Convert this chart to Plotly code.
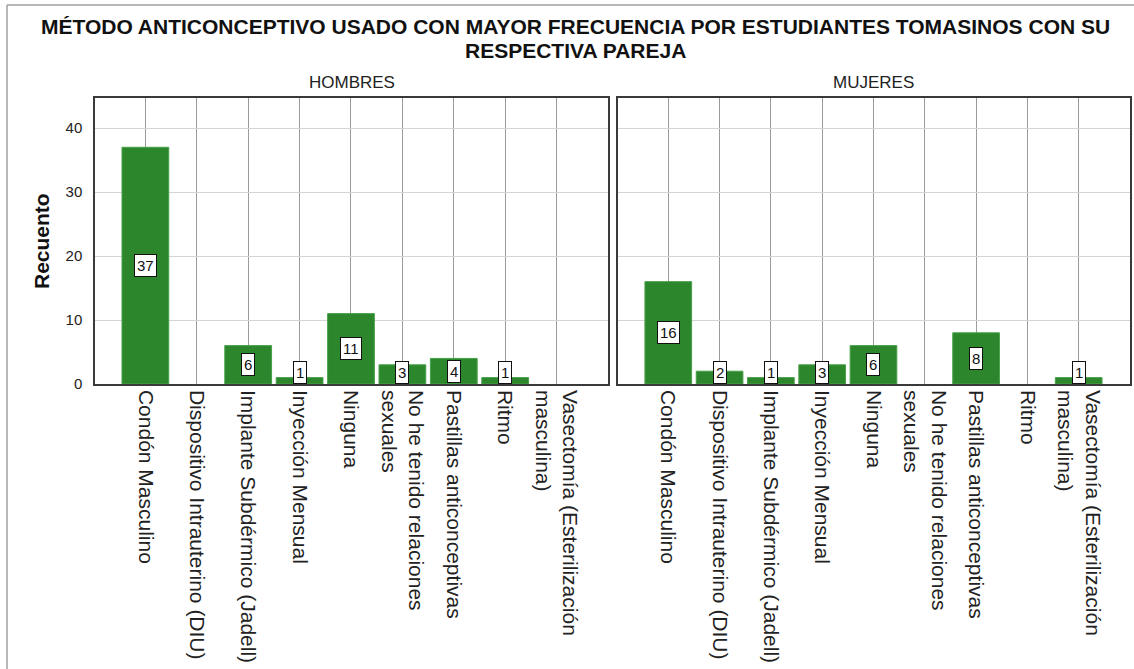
import plotly.graph_objects as go
from plotly.subplots import make_subplots

categories = [
    "Condón Masculino",
    "Dispositivo Intrauterino (DIU)",
    "Implante Subdérmico (Jadell)",
    "Inyección Mensual",
    "Ninguna",
    "No he tenido relaciones<br>sexuales",
    "Pastillas anticonceptivas",
    "Ritmo",
    "Vasectomía (Esterilización<br>masculina)",
]
hombres = [37, 0, 6, 1, 11, 3, 4, 1, 0]
mujeres = [16, 2, 1, 3, 6, 0, 8, 0, 1]
panel_titles = ["HOMBRES", "MUJERES"]
y_ticks = [0, 10, 20, 30, 40]

TITLE_LINES = [
    "MÉTODO ANTICONCEPTIVO USADO CON MAYOR FRECUENCIA POR ESTUDIANTES TOMASINOS CON SU",
    "RESPECTIVA PAREJA",
]

W, H = 1134, 669
ML, MR, MT, MB = 95, 4, 98, 285
PW = W - ML - MR
PH = H - MT - MB
FONT = "Liberation Sans, Arial, sans-serif"
BAR = "#2c872c"

fig = make_subplots(rows=1, cols=2, shared_yaxes=False)

for i, vals in enumerate([hombres, mujeres]):
    fig.add_trace(go.Bar(
        x=categories, y=vals,
        marker=dict(color=BAR, line=dict(color="#49a049", width=[1 if v > 0 else 0 for v in vals])),
        width=0.91, showlegend=False, hoverinfo="x+y"), row=1, col=i + 1)

dom1 = [0, 513 / PW]
dom2 = [523 / PW, 1]
YMAX = 44.7
LABEL_MIN = 1.8

axis_common = dict(
    showline=True, mirror=True, linecolor="#3a3a3a", linewidth=1.5,
    automargin=False, zeroline=False,
)
for i, dom in enumerate([dom1, dom2]):
    xa = "xaxis" if i == 0 else "xaxis2"
    ya = "yaxis" if i == 0 else "yaxis2"
    fig.layout[xa].update(
        domain=dom, type="category", categoryorder="array", categoryarray=categories,
        range=[-0.98, 9.0], showgrid=True, gridcolor="#9a9a9a", gridwidth=1,
        tickangle=90, ticks="", tickfont=dict(family=FONT, size=21, color="#222"),
        **axis_common,
    )
    fig.layout[ya].update(
        range=[0, YMAX], tickvals=y_ticks, showgrid=True, gridcolor="#d4d4d4", gridwidth=1,
        ticks="", showticklabels=(i == 0), ticklabelstandoff=8,
        tickfont=dict(family=FONT, size=15, color="#222"),
        **axis_common,
    )

def px_x(px):
    return (px - ML) / PW

def px_y(py):
    return (H - MB - py) / PH

annotations = []
for i, (vals, xr, yr) in enumerate([(hombres, "x", "y"), (mujeres, "x2", "y2")]):
    for c, v in zip(categories, vals):
        if v > 0:
            annotations.append(dict(
                x=c, y=max(v / 2, LABEL_MIN), xref=xr, yref=yr, text=str(v), showarrow=False,
                font=dict(family=FONT, size=15, color="#111"), bgcolor="white",
                bordercolor="#111", borderwidth=1, borderpad=2, xanchor="center", yanchor="middle",
            ))

for t, dom in zip(panel_titles, [dom1, dom2]):
    annotations.append(dict(
        x=(dom[0] + dom[1]) / 2, y=px_y(83), xref="paper", yref="paper", text=t,
        showarrow=False, font=dict(family=FONT, size=17, color="#222"),
        xanchor="center", yanchor="middle",
    ))

annotations.append(dict(
    x=px_x(41), y=0.5, xref="paper", yref="paper", text="<b>Recuento</b>",
    showarrow=False, textangle=-90, font=dict(family=FONT, size=21, color="#111"),
    xanchor="center", yanchor="middle",
))

for line, py in zip(TITLE_LINES, [27, 51]):
    annotations.append(dict(
        x=px_x(575), y=px_y(py), xref="paper", yref="paper", text="<b>" + line + "</b>",
        showarrow=False, font=dict(family=FONT, size=21, color="#111"),
        xanchor="center", yanchor="middle",
    ))

shapes = [
    dict(type="line", xref="paper", yref="paper", x0=px_x(7), x1=px_x(W + 2), y0=px_y(5), y1=px_y(5),
         line=dict(color="#a0a0a0", width=1.5)),
    dict(type="line", xref="paper", yref="paper", x0=px_x(7), x1=px_x(7), y0=px_y(5), y1=px_y(H + 2),
         line=dict(color="#a0a0a0", width=1.5)),
]

fig.update_layout(
    width=W, height=H, template="none",
    margin=dict(l=ML, r=MR, t=MT, b=MB, autoexpand=False),
    paper_bgcolor="white", plot_bgcolor="white",
    bargap=0.09,
    annotations=annotations, shapes=shapes,
    font=dict(family=FONT),
)

fig.write_html("out.html", config={"displayModeBar": False},
               post_script="document.body.style.margin='0';document.body.style.overflow='hidden';")
